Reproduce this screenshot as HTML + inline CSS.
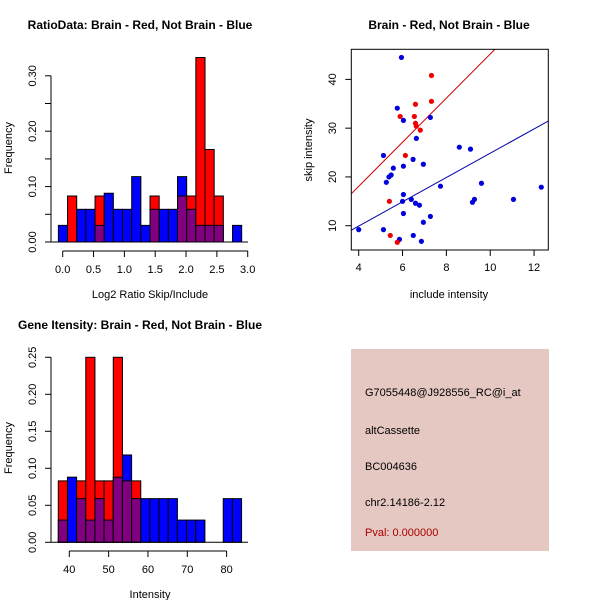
<!DOCTYPE html>
<html><head><meta charset="utf-8"><style>
body{margin:0;background:#fff;}
svg{display:block;font-family:"Liberation Sans",sans-serif;}
</style></head><body>
<svg id="c" width="600" height="600" viewBox="0 0 600 600">
<rect width="600" height="600" fill="#fff"/>
</svg>
<script>
// Ratio histogram data (20 bins)
const ratioRed = [0,0.083,0,0,0.083,0,0,0,0,0,0.083,0,0,0.083,0.083,0.333,0.167,0.083,0,0];
const ratioBlue = [0.03,0,0.059,0.059,0.03,0.088,0.059,0.059,0.118,0.03,0.059,0.059,0.059,0.118,0.059,0.03,0.03,0.03,0,0.03];
const ratioXTicks = ["0.0","0.5","1.0","1.5","2.0","2.5","3.0"];
const ratioYTicks = ["0.00","0.10","0.20","0.30"];
// Intensity histogram data (20 bins)
const intRed = [0.083,0,0.083,0.25,0.083,0.083,0.25,0.083,0.083,0,0,0,0,0,0,0,0,0,0,0];
const intBlue = [0.03,0.088,0.059,0.03,0.059,0.03,0.088,0.118,0.059,0.059,0.059,0.059,0.059,0.03,0.03,0.03,0,0,0.059,0.059];
const intXTicks = ["40","50","60","70","80"];
const intYTicks = ["0.00","0.05","0.10","0.15","0.20","0.25"];
// Scatter data
const blueX = [5.95,5.76,6.04,7.27,6.63,5.13,6.48,6.04,6.95,5.58,5.48,5.38,5.26,7.73,8.59,9.10,9.6,6.04,6.0,6.4,6.59,6.77,9.19,9.28,11.06,12.33,6.04,7.27,6.95,4.0,5.13,5.86,6.49,6.86];
const blueY = [44.5,34.1,31.6,32.2,27.9,24.4,23.6,22.2,22.6,21.8,20.4,20.0,18.9,18.1,26.1,25.7,18.7,16.4,15.0,15.4,14.6,14.2,14.8,15.4,15.4,17.9,12.5,11.9,10.7,9.2,9.2,7.2,8.0,6.8];
const redX = [7.32,7.32,6.59,5.89,6.54,6.59,6.63,6.81,6.13,5.40,5.44,5.76];
const redY = [40.8,35.5,34.9,32.4,32.4,31.0,30.4,29.6,24.4,15.0,8.0,6.6];
const scatterXTicks = [4,6,8,10,12];
const scatterYTicks = [10,20,30,40];
const redFit = [0.0,4.52];
const blueFit = [-0.04,2.49];

const svg=document.getElementById('c');
const NS='http://www.w3.org/2000/svg';
function el(tag,attrs,parent){const e=document.createElementNS(NS,tag);for(const k in attrs)e.setAttribute(k,attrs[k]);(parent||svg).appendChild(e);return e;}
function txt(x,y,s,attrs,parent){const t=el('text',Object.assign({x:x,y:y,'font-size':11,fill:'#000'},attrs||{}),parent);t.textContent=s;return t;}

function hist(g,red,blue,x0,bw,xs,ys,base){
  for(let i=0;i<red.length;i++){
    const xl=xs(x0+i*bw), xr=xs(x0+(i+1)*bw);
    const r=red[i], b=blue[i], m=Math.min(r,b);
    const parts=[];
    if(r>b) parts.push([r,'#ff0000']); else if(b>r) parts.push([b,'#0000ff']);
    if(m>0) parts.push([m,'#800080']);
    parts.forEach(p=>{
      const rc=el('rect',{x:xl,y:ys(p[0]),width:xr-xl,height:base-ys(p[0]),fill:p[1],stroke:'#000','stroke-width':1},g);
      
      
    });
  }
}

// Panel 1
(function(){
  const g=el('g',{});
  const base=242, xs=v=>62.7+v*61.67, ys=v=>base-v*554;
  txt(140,29,'RatioData: Brain - Red, Not Brain - Blue',{'text-anchor':'middle','font-weight':'bold','font-size':12},g);
  hist(g,ratioRed,ratioBlue,-0.07,0.1486,xs,ys,base);
  el('line',{x1:51,y1:base,x2:248,y2:base,stroke:'#000'},g);
  el('line',{x1:51,y1:ys(0),x2:51,y2:ys(0.3),stroke:'#000'},g);
  for(let i=0;i<=6;i++){const v=ys(i*0.05);el('line',{x1:45,y1:v,x2:51,y2:v,stroke:'#000'},g);}
  ratioYTicks.forEach(s=>{const v=ys(parseFloat(s));txt(36,v,s,{'text-anchor':'middle',transform:`rotate(-90 36 ${v})`},g);});
  el('line',{x1:xs(0),y1:251,x2:xs(3),y2:251,stroke:'#000'},g);
  ratioXTicks.forEach(s=>{const v=xs(parseFloat(s));el('line',{x1:v,y1:251,x2:v,y2:257,stroke:'#000'},g);txt(v,273,s,{'text-anchor':'middle'},g);});
  txt(150,298,'Log2 Ratio Skip/Include',{'text-anchor':'middle'},g);
  txt(12,148,'Frequency',{'text-anchor':'middle',transform:'rotate(-90 12 148)'},g);
})();

// Panel 3
(function(){
  const g=el('g',{});
  const base=542.3, xs=v=>69.3+(v-40)*3.933, ys=v=>base-v*740;
  txt(140,329,'Gene Itensity: Brain - Red, Not Brain - Blue',{'text-anchor':'middle','font-weight':'bold','font-size':12},g);
  hist(g,intRed,intBlue,37.2,2.33,xs,ys,base);
  el('line',{x1:51,y1:base,x2:248,y2:base,stroke:'#000'},g);
  el('line',{x1:51,y1:ys(0),x2:51,y2:ys(0.25),stroke:'#000'},g);
  intYTicks.forEach(s=>{const v=ys(parseFloat(s));el('line',{x1:45,y1:v,x2:51,y2:v,stroke:'#000'},g);txt(36,v,s,{'text-anchor':'middle',transform:`rotate(-90 36 ${v})`},g);});
  el('line',{x1:xs(40),y1:551,x2:xs(80),y2:551,stroke:'#000'},g);
  intXTicks.forEach(s=>{const v=xs(parseFloat(s));el('line',{x1:v,y1:551,x2:v,y2:557,stroke:'#000'},g);txt(v,573,s,{'text-anchor':'middle'},g);});
  txt(150,598,'Intensity',{'text-anchor':'middle'},g);
  txt(12,448,'Frequency',{'text-anchor':'middle',transform:'rotate(-90 12 448)'},g);
})();

// Panel 2 scatter
(function(){
  const g=el('g',{});
  const L=351.3,R=548.3,T=49.3,B=250;
  const xs=v=>358.7+(v-4)*21.92, ys=v=>225.7-(v-10)*4.877;
  txt(449,29,'Brain - Red, Not Brain - Blue',{'text-anchor':'middle','font-weight':'bold','font-size':12},g);
  const cp=el('clipPath',{id:'cl'},g);el('rect',{x:L,y:T,width:R-L,height:B-T},cp);
  [[redFit,'#cc0000'],[blueFit,'#0000aa']].forEach(f=>{
    const x1=3.6,x2=12.7;
    const ln=el('line',{x1:xs(x1),y1:ys(f[0][0]+f[0][1]*x1),x2:xs(x2),y2:ys(f[0][0]+f[0][1]*x2),stroke:f[1],'stroke-width':1,'clip-path':'url(#cl)'},g);
    
    
  });
  blueX.forEach((x,i)=>{const c=el('circle',{cx:xs(x),cy:ys(blueY[i]),r:2.6,fill:'#0000dd'},g);
    
    });
  redX.forEach((x,i)=>{const c=el('circle',{cx:xs(x),cy:ys(redY[i]),r:2.6,fill:'#ee0000'},g);
    
    });
  el('rect',{x:L,y:T,width:R-L,height:B-T,fill:'none',stroke:'#000'},g);
  scatterXTicks.forEach(v=>{const p=xs(v);el('line',{x1:p,y1:B,x2:p,y2:B+6,stroke:'#000'},g);txt(p,271,String(v),{'text-anchor':'middle'},g);});
  scatterYTicks.forEach(v=>{const p=ys(v);el('line',{x1:L-6,y1:p,x2:L,y2:p,stroke:'#000'},g);txt(336,p,String(v),{'text-anchor':'middle',transform:`rotate(-90 336 ${p})`},g);});
  txt(449,298,'include intensity',{'text-anchor':'middle'},g);
  txt(312,150,'skip intensity',{'text-anchor':'middle',transform:'rotate(-90 312 150)'},g);
})();

// Info box
(function(){
  const g=el('g',{});
  el('rect',{x:351,y:349,width:198,height:202,fill:'#e5c8c2'},g);
  txt(365,396,'G7055448@J928556_RC@i_at',{},g);
  txt(365,434,'altCassette',{},g);
  txt(365,470,'BC004636',{},g);
  txt(365,506,'chr2.14186-2.12',{},g);
  txt(365,536,'Pval: 0.000000',{fill:'#aa0000'},g);
})();
</script>
</body></html>
